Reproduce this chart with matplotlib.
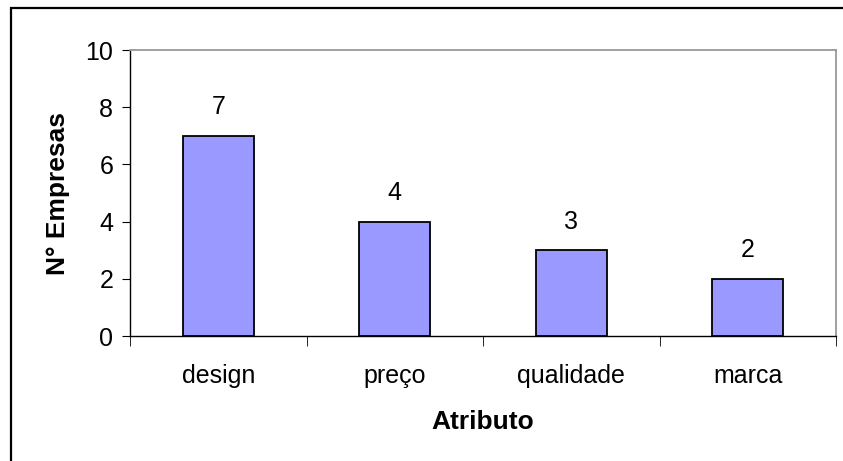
import matplotlib
matplotlib.use("Agg")
import matplotlib.pyplot as plt
from matplotlib.patches import Rectangle

categories = ["design", "preço", "qualidade", "marca"]
values = [7, 4, 3, 2]
yticks = [0, 2, 4, 6, 8, 10]

plt.rcParams['font.family'] = ['Liberation Sans', 'DejaVu Sans']

W, H = 843, 461
fig = plt.figure(figsize=(W / 100, H / 100), dpi=100)

# outer frame (only left/top visible in reference)
fig.patches.append(Rectangle((11 / W, -0.1), 1.2, (H - 8) / H + 0.1, transform=fig.transFigure,
                             fill=False, edgecolor='black', linewidth=1.6, zorder=0))

left, right, top, bottom = 130, 836, 50, 336
ax = fig.add_axes([left / W, 1 - bottom / H, (right - left) / W, (bottom - top) / H])

FS = 18
x = list(range(len(categories)))
ax.bar(x, values, width=0.4, color='#9999FF', edgecolor='black', linewidth=1.3, zorder=3)
for xi, v in zip(x, values):
    ax.annotate(str(v), (xi, v), xytext=(0, 12), textcoords='offset points',
                ha='center', va='bottom', fontsize=FS)

ax.set_xlim(-0.5, len(categories) - 0.5)
ax.set_ylim(0, 10)
ax.set_yticks(yticks)
ax.set_yticklabels([str(t) for t in yticks], fontsize=FS)
ax.set_xticks(x)
ax.set_xticklabels(categories, fontsize=FS)
ax.tick_params(axis='x', length=0, pad=20)
ax.set_xticks([i - 0.5 for i in range(len(categories) + 1)], minor=True)
ax.tick_params(axis='x', which='minor', length=7, direction='out', color='black')
ax.tick_params(axis='y', length=6, direction='out', pad=6, color='black')

for s in ['top', 'right']:
    ax.spines[s].set_color('#999999')
    ax.spines[s].set_linewidth(1.3)
for s in ['left', 'bottom']:
    ax.spines[s].set_color('black')
    ax.spines[s].set_linewidth(1.0)

ax.set_ylabel("N° Empresas", fontsize=19, fontweight='bold', labelpad=11)
ax.set_xlabel("Atributo", fontsize=19, fontweight='bold', labelpad=16)

fig.savefig("out.png", dpi=100)
